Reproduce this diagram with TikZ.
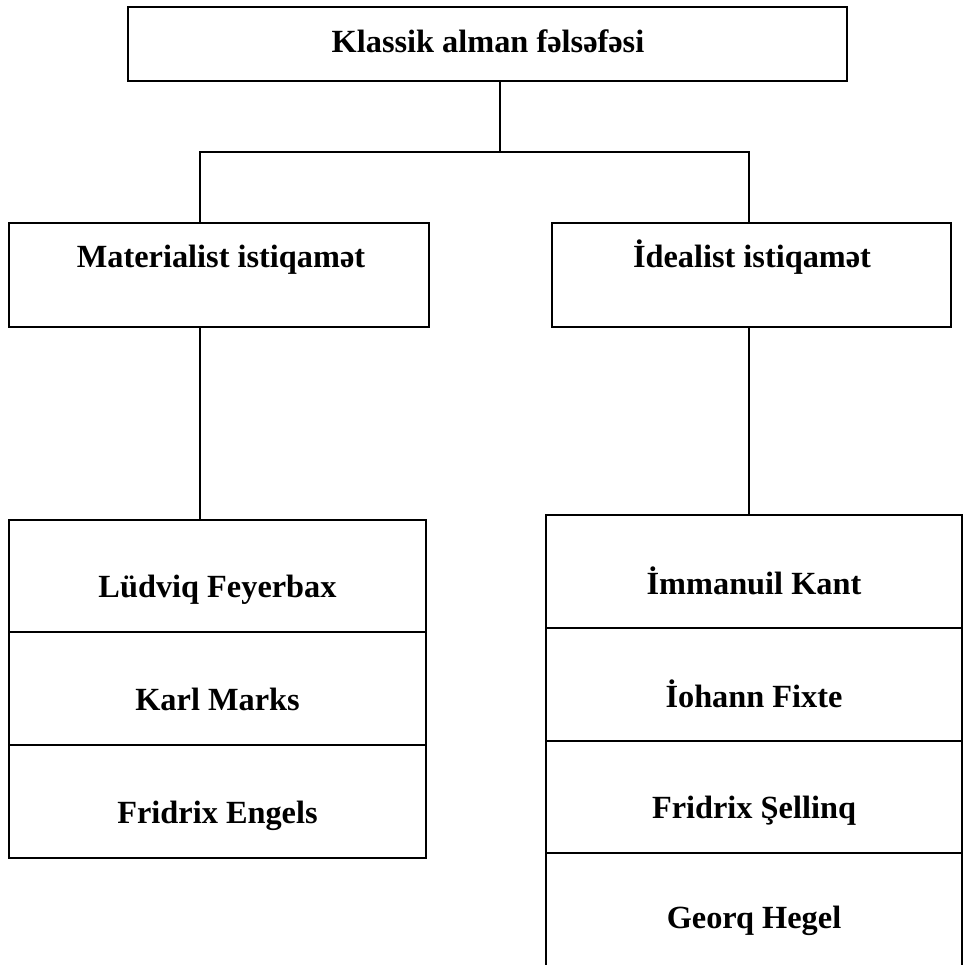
\documentclass[tikz,border=0pt]{standalone}
\usepackage{fontspec}
\setmainfont{Liberation Serif}
\usetikzlibrary{positioning}

\begin{document}
\begin{tikzpicture}[
    node distance=0pt,
    box/.style={
        rectangle,
        draw=black,
        line width=1.3pt,
        inner sep=0pt,
        outer sep=0pt
    },
    cell/.style={box, minimum width=10.425cm, minimum height=2.825cm},
    rcell/.style={box, minimum width=10.4cm, minimum height=2.825cm},
    title/.style={
        font=\fontsize{23}{28}\selectfont\bfseries,
        anchor=base
    },
    link/.style={line width=1.3pt}
]
\useasboundingbox (0,0) rectangle (24.1,24.125);

% Top box
\node[box, minimum width=17.975cm, minimum height=1.85cm] (top) at (12.1875, 23.025) {};
\node[title] (toptxt) at (12.2, 22.81) {Klassik alman fəlsəfəsi};

% Second level
\node[box, minimum width=10.5cm, minimum height=2.6cm] (mat) at (5.475, 17.25) {};
\node[title] (mattxt) at (5.525, 17.43) {Materialist istiqamət};
\node[box, minimum width=9.975cm, minimum height=2.6cm] (ide) at (18.7875, 17.25) {};
\node[title] (idetxt) at (18.8, 17.43) {İdealist istiqamət};

% Materialist stack
\node[cell, minimum height=2.8cm] (feuer) at (5.4375, 9.725) {};
\node[cell, below=of feuer] (marx) {};
\node[cell, below=of marx] (engels) {};
\node[title] (feuertxt) at ([yshift=-0.55cm]feuer.center) {Lüdviq Feyerbax};
\node[title] (marxtxt) at ([yshift=-0.55cm]marx.center) {Karl Marks};
\node[title] (engelstxt) at ([yshift=-0.55cm]engels.center) {Fridrix Engels};

% Idealist stack
\node[rcell] (kant) at (18.85, 9.8375) {};
\node[rcell, below=of kant] (fichte) {};
\node[rcell, minimum height=2.8cm, below=of fichte] (schelling) {};
\node[rcell, minimum height=2.9cm, below=of schelling] (hegel) {};
\node[title] (kanttxt) at ([yshift=-0.57cm]kant.center) {İmmanuil Kant};
\node[title] (fichtetxt) at ([yshift=-0.57cm]fichte.center) {İohann Fixte};
\node[title] (schellingtxt) at ([yshift=-0.55cm]schelling.center) {Fridrix Şellinq};
\node[title] (hegeltxt) at ([yshift=-0.45cm]hegel.center) {Georq Hegel};

% Connectors
\coordinate (split) at (12.5, 20.325);
\coordinate (matjoin) at (5.0, 20.325);
\coordinate (idejoin) at (18.725, 20.325);
\draw[link] (split |- top.south) -- (split);
\draw[link] (matjoin |- mat.north) -- (matjoin) -- (idejoin) -- (idejoin |- ide.north);
\draw[link] (matjoin |- mat.south) -- (matjoin |- feuer.north);
\draw[link] (idejoin |- ide.south) -- (idejoin |- kant.north);

\end{tikzpicture}
\end{document}
